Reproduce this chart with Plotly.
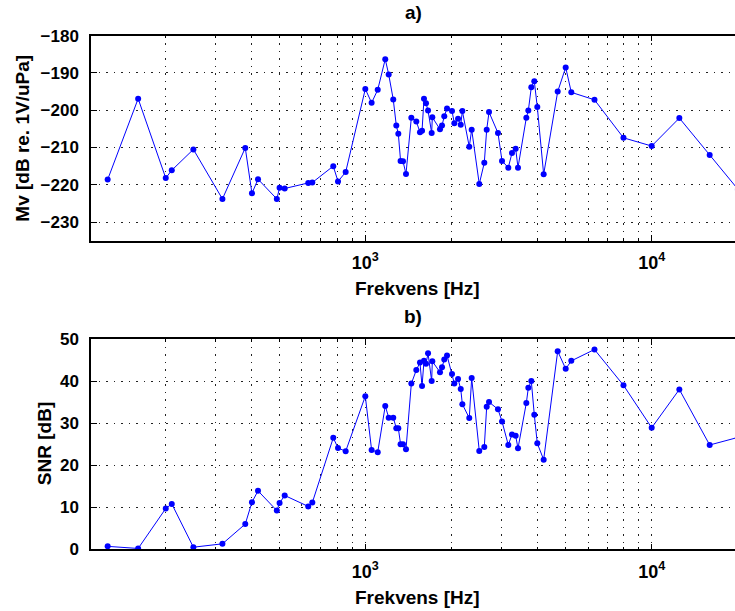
import plotly.graph_objects as go

# Measurement frequencies [Hz]
freq = [126, 161, 201, 211, 251, 317, 381, 402, 422, 491, 502, 523, 632, 653,
        773, 803, 854, 1000, 1052, 1105, 1174, 1207, 1252, 1283, 1304, 1328,
        1354, 1387, 1448, 1507, 1552, 1578, 1603, 1629, 1656, 1705, 1714, 1823,
        1853, 1887, 1929, 2008, 2046, 2108, 2154, 2182, 2307, 2352, 2500, 2603,
        2654, 2704, 2906, 3002, 3157, 3252, 3350, 3413, 3650, 3709, 3799, 3891,
        3986, 4196, 4697, 5009, 5240, 6313, 7970, 10000, 12490, 15940, 20000]

# Receiving sensitivity Mv [dB re. 1V/uPa]
mv = [-218.6, -196.9, -218.2, -216.1, -210.5, -223.8, -210.1, -222.3, -218.5,
      -223.8, -220.8, -221.0, -219.5, -219.4, -215.0, -219.1, -216.6, -194.3,
      -198.0, -194.5, -186.3, -190.4, -197.1, -204.1, -206.3, -213.6, -213.7,
      -217.1, -202.0, -203.0, -205.9, -205.5, -196.9, -198.1, -200.1, -206.1,
      -201.9, -205.1, -204.1, -201.6, -199.5, -200.2, -203.5, -202.3, -203.9,
      -200.2, -209.8, -205.2, -219.8, -214.1, -205.2, -200.5, -206.1, -213.6,
      -215.4, -211.5, -210.3, -215.4, -202.0, -200.1, -193.8, -192.2, -199.1,
      -217.2, -195.0, -188.5, -195.2, -197.2, -207.4, -209.6, -202.1, -212.0,
      -221.2]

# Signal-to-noise ratio [dB]
snr = [0.7, 0.2, 9.7, 10.8, 0.5, 1.3, 6.0, 11.2, 13.9, 9.2, 11.0, 12.8, 10.2,
       11.1, 26.5, 24.1, 23.3, 36.4, 23.6, 23.1, 34.1, 31.3, 31.3, 28.8, 28.8,
       25.0, 25.0, 23.8, 39.4, 42.6, 44.4, 38.8, 44.8, 44.1, 46.6, 40.0, 44.7,
       42.1, 43.3, 45.1, 46.1, 41.7, 39.4, 40.5, 38.1, 34.5, 31.2, 40.7, 23.4,
       24.3, 33.9, 35.0, 33.3, 30.4, 24.8, 27.3, 27.0, 24.0, 34.8, 38.4, 40.0,
       32.0, 25.2, 21.3, 47.1, 42.9, 44.8, 47.5, 39.0, 28.9, 38.0, 24.8, 26.6]

mv_ticks = [-230, -220, -210, -200, -190, -180]
snr_ticks = [0, 10, 20, 30, 40, 50]
decade_vals = [1000, 10000]
decade_text = ["10<sup>3</sup>", "10<sup>4</sup>"]
minor_vals = [m * d for d in (100, 1000) for m in range(2, 10)]

W, H = 735, 611
FONT = "Liberation Sans, Arial, Helvetica, sans-serif"
BLUE = "#0000ff"


def px(x):
    return x / W


def py(y):
    return 1 - y / H


fig = go.Figure()
for i, (yv, name) in enumerate([(mv, "Mv"), (snr, "SNR")], start=1):
    fig.add_trace(go.Scatter(
        x=freq, y=yv, mode="lines+markers", name=name,
        line=dict(color=BLUE, width=1),
        marker=dict(color=BLUE, size=6),
        xaxis="x" if i == 1 else "x2",
        yaxis="y" if i == 1 else "y2",
        showlegend=False,
    ))

grid_dash = "1.5px,6px"
grid_color = "#222222"
xaxis_common = dict(
    type="log",
    range=[2.0422, 4.2909],
    tickmode="array",
    tickvals=decade_vals,
    ticktext=decade_text,
    ticks="inside",
    ticklen=6,
    tickwidth=1,
    tickcolor="black",
    showline=True,
    linecolor="black",
    linewidth=1.5,
    mirror="allticks",
    showgrid=True,
    gridcolor=grid_color,
    gridwidth=1,
    griddash=grid_dash,
    zeroline=False,
    automargin=False,
    ticklabelstandoff=5,
    tickfont=dict(family=FONT, size=18, color="black", weight="bold"),
    minor=dict(
        tickmode="array",
        tickvals=minor_vals,
        ticks="inside",
        ticklen=3,
        tickcolor="black",
        showgrid=True,
        gridcolor=grid_color,
        gridwidth=1,
        griddash=grid_dash,
    ),
)

yaxis_common = dict(
    tickmode="array",
    ticks="inside",
    ticklen=6,
    tickcolor="black",
    showline=True,
    linecolor="black",
    linewidth=1.5,
    mirror=False,
    showgrid=True,
    gridcolor=grid_color,
    gridwidth=1,
    griddash=grid_dash,
    zeroline=False,
    automargin=False,
    ticklabelstandoff=7,
    tickfont=dict(family=FONT, size=17, color="black", weight="bold"),
)

# Panel placement (pixel edges)
left, right = 91, 735
top_a, bot_a = 35.7, 240.7
top_b, bot_b = 339.0, 549.3

fig.update_layout(
    width=W, height=H,
    autosize=False,
    margin=dict(l=0, r=0, t=0, b=0, pad=0, autoexpand=False),
    paper_bgcolor="white",
    plot_bgcolor="white",
    xaxis=dict(**xaxis_common, domain=[px(left), px(right)], anchor="y"),
    yaxis=dict(**yaxis_common, tickvals=mv_ticks, range=[-235, -180],
               domain=[py(bot_a), py(top_a)], anchor="x"),
    xaxis2=dict(**xaxis_common, domain=[px(left), px(right)], anchor="y2"),
    yaxis2=dict(**yaxis_common, tickvals=snr_ticks, range=[0, 50],
                domain=[py(bot_b), py(top_b)], anchor="x2"),
)

label_font = dict(family=FONT, size=19, color="black", weight="bold")
mid_x = (left + right) / 2
annotations = [
    dict(text="a)", x=px(mid_x), y=py(12.5)),
    dict(text="b)", x=px(mid_x), y=py(316.5)),
    dict(text="Frekvens [Hz]", x=px(417), y=py(288.5)),
    dict(text="Frekvens [Hz]", x=px(417), y=py(597.5)),
    dict(text="Mv [dB re. 1V/uPa]", x=px(22.5), y=py((top_a + bot_a) / 2), textangle=-90),
    dict(text="SNR [dB]", x=px(44), y=py((top_b + bot_b) / 2), textangle=-90),
]
for a in annotations:
    fig.add_annotation(xref="paper", yref="paper", showarrow=False,
                       xanchor="center", yanchor="middle", font=label_font, **a)

fig.write_html("out.html")
